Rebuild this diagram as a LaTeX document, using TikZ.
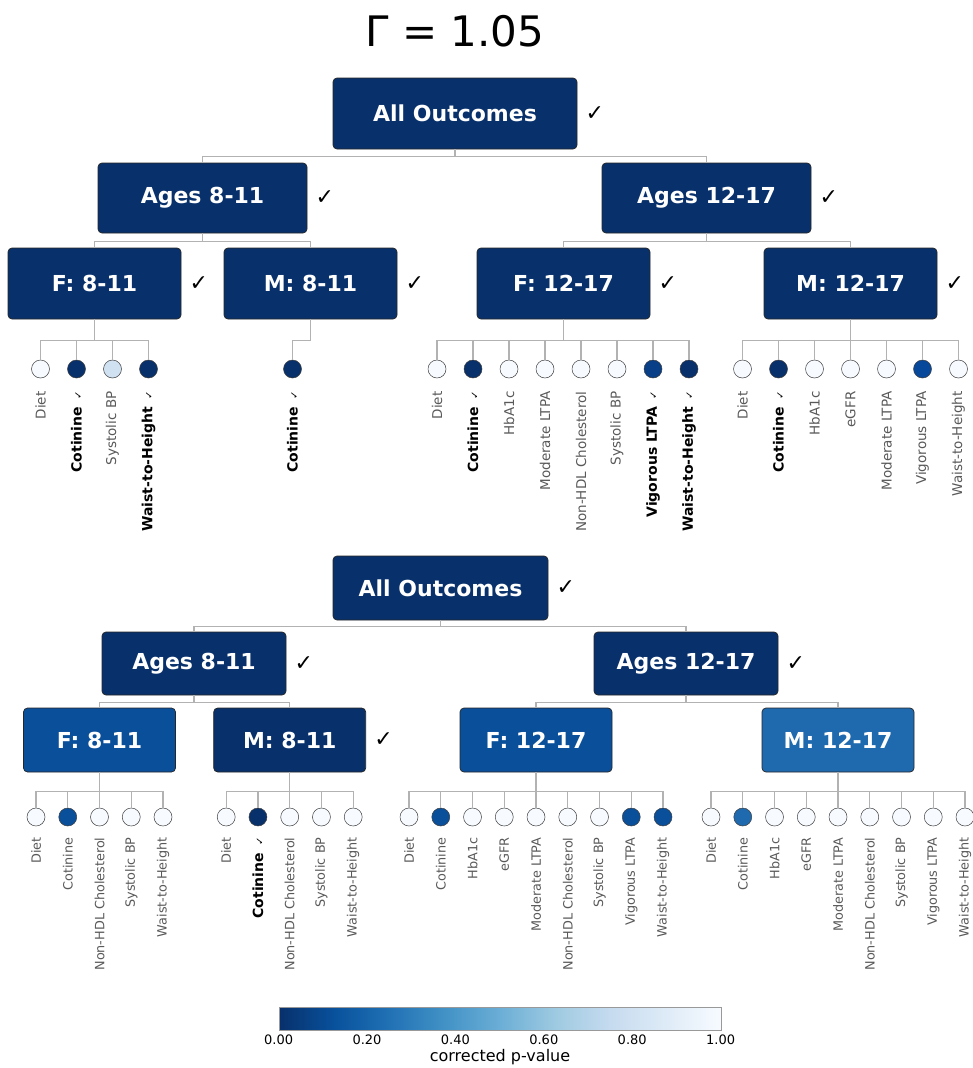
\documentclass[tikz,border=0pt]{standalone}
\usepackage{fontspec}
\setmainfont{DejaVu Sans}
\usetikzlibrary{positioning}

% colours (reversed Blues map, p-value 0 -> 1)
\definecolor{cnavy}{HTML}{08306B}
\definecolor{cdeep}{HTML}{083F86}
\definecolor{cmid}{HTML}{08489A}
\definecolor{cblue}{HTML}{0A4F9A}
\definecolor{csky}{HTML}{1F69AF}
\definecolor{cpale}{HTML}{D0E1F2}
\definecolor{cwhite}{HTML}{F7FBFF}
\definecolor{b0}{HTML}{08306B}
\definecolor{b1}{HTML}{08519C}
\definecolor{b2}{HTML}{2171B5}
\definecolor{b3}{HTML}{4292C6}
\definecolor{b4}{HTML}{6BAED6}
\definecolor{b5}{HTML}{9ECAE1}
\definecolor{b6}{HTML}{C6DBEF}
\definecolor{b7}{HTML}{DEEBF7}
\definecolor{b8}{HTML}{F7FBFF}
\pgfdeclarehorizontalshading{bluesr}{100bp}{color(0bp)=(b0); color(25bp)=(b0);
  color(31.25bp)=(b1); color(37.5bp)=(b2); color(43.75bp)=(b3); color(50bp)=(b4);
  color(56.25bp)=(b5); color(62.5bp)=(b6); color(68.75bp)=(b7); color(75bp)=(b8);
  color(100bp)=(b8)}

\begin{document}
\begin{tikzpicture}[x=1pt, y=-1pt,
    grpbox/.style={
        draw=black!85, line width=0.7pt,
        rounded corners=4pt, inner sep=0pt,
        text=white, font=\fontsize{22}{26}\selectfont\bfseries
    },
    okmark/.style={inner sep=0pt, font=\fontsize{22}{26}\selectfont},
    leaf/.style={circle, draw=black!75, line width=0.5pt, minimum size=18pt, inner sep=0pt},
    link/.style={draw=black!30, line width=1.2pt},
    tag/.style={rotate=90, anchor=east, inner sep=0pt, text=black!65,
        font=\fontsize{\lsize}{\lsize}\selectfont},
    sig/.style={tag, text=black, font=\fontsize{14}{16}\selectfont\bfseries,
        execute at end node={\hspace{7pt}{\mdseries\fontsize{10}{10}\selectfont ✓}}},
    ticklab/.style={anchor=north, inner sep=0pt, yshift=-4pt, font=\fontsize{13}{15}\selectfont},
]
\useasboundingbox (0,0) rectangle (972,1068);

% title
\node[font=\fontsize{42}{48}\selectfont] (title) at (455,31) {Γ = 1.05};

% ---------- upper tree ----------
\def\lsize{13.5}
\node[grpbox, fill=cnavy, minimum width=244pt, minimum height=71pt] (top0) at (455,113.5) {All Outcomes};
\node[okmark, right=8pt of top0] (top0-ok) {✓};

\node[grpbox, fill=cnavy, minimum width=209pt, minimum height=70pt] (ya) at (202.5,198) {Ages 8-11};
\node[grpbox, fill=cnavy, minimum width=209pt, minimum height=70pt] (yb) at (706.5,198) {Ages 12-17};
\node[okmark, right=8pt of ya] (ya-ok) {✓};
\node[okmark, right=8pt of yb] (yb-ok) {✓};

\draw[link] (top0.south) -- ++(0,7) -| (ya.north);
\draw[link] (top0.south) -- ++(0,7) -| (yb.north);

\node[grpbox, fill=cnavy, minimum width=173pt, minimum height=71pt] (fa) at (94.5,283.5) {F: 8-11};
\node[grpbox, fill=cnavy, minimum width=173pt, minimum height=71pt] (ma) at (310.5,283.5) {M: 8-11};
\node[grpbox, fill=cnavy, minimum width=173pt, minimum height=71pt] (fb) at (563.5,283.5) {F: 12-17};
\node[grpbox, fill=cnavy, minimum width=173pt, minimum height=71pt] (mb) at (850.5,283.5) {M: 12-17};
\node[okmark, right=8pt of fa] (fa-ok) {✓};
\node[okmark, right=8pt of ma] (ma-ok) {✓};
\node[okmark, right=8pt of fb] (fb-ok) {✓};
\node[okmark, right=8pt of mb] (mb-ok) {✓};

\draw[link] (ya.south) -- ++(0,8) -| (fa.north);
\draw[link] (ya.south) -- ++(0,8) -| (ma.north);
\draw[link] (yb.south) -- ++(0,8) -| (fb.north);
\draw[link] (yb.south) -- ++(0,8) -| (mb.north);

% outcome leaves
\foreach \lab/\col/\st [count=\i] in {Diet/cwhite/tag, Cotinine/cnavy/sig,
    Systolic BP/cpale/tag, Waist-to-Height/cnavy/sig}{
  \node[leaf, fill=\col] (fa\i) at ({40.5+36*(\i-1)},369) {};
  \node[\st] (fa\i-lab) at ([yshift=-13pt]fa\i.south) {\lab};
  \draw[link] (fa.south) -- ++(0,21) -| (fa\i.north);
}

\node[leaf, fill=cnavy] (ma1) at (292.5,369) {};
\node[sig] (ma1-lab) at ([yshift=-13pt]ma1.south) {Cotinine};
\draw[link] (ma.south) -- ++(0,21) -| (ma1.north);

\foreach \lab/\col/\st [count=\i] in {Diet/cwhite/tag, Cotinine/cnavy/sig,
    HbA1c/cwhite/tag, Moderate LTPA/cwhite/tag, Non-HDL Cholesterol/cwhite/tag,
    Systolic BP/cwhite/tag, Vigorous LTPA/cdeep/sig, Waist-to-Height/cnavy/sig}{
  \node[leaf, fill=\col] (fb\i) at ({437+36*(\i-1)},369) {};
  \node[\st] (fb\i-lab) at ([yshift=-13pt]fb\i.south) {\lab};
  \draw[link] (fb.south) -- ++(0,21) -| (fb\i.north);
}

\foreach \lab/\col/\st [count=\i] in {Diet/cwhite/tag, Cotinine/cnavy/sig,
    HbA1c/cwhite/tag, eGFR/cwhite/tag, Moderate LTPA/cwhite/tag,
    Vigorous LTPA/cmid/tag, Waist-to-Height/cwhite/tag}{
  \node[leaf, fill=\col] (mb\i) at ({742.5+36*(\i-1)},369) {};
  \node[\st] (mb\i-lab) at ([yshift=-13pt]mb\i.south) {\lab};
  \draw[link] (mb.south) -- ++(0,21) -| (mb\i.north);
}

% ---------- lower tree ----------
\def\lsize{12.8}
\node[grpbox, fill=cnavy, minimum width=215pt, minimum height=64pt] (bot0) at (440.5,588) {All Outcomes};
\node[okmark, right=8pt of bot0] (bot0-ok) {✓};

\node[grpbox, fill=cnavy, minimum width=184pt, minimum height=63pt] (yc) at (194,663.5) {Ages 8-11};
\node[grpbox, fill=cnavy, minimum width=184pt, minimum height=63pt] (yd) at (686,663.5) {Ages 12-17};
\node[okmark, right=8pt of yc] (yc-ok) {✓};
\node[okmark, right=8pt of yd] (yd-ok) {✓};

\draw[link] (bot0.south) -- ++(0,6) -| (yc.north);
\draw[link] (bot0.south) -- ++(0,6) -| (yd.north);

\node[grpbox, fill=cblue, minimum width=152pt, minimum height=64pt] (fc) at (99.5,740) {F: 8-11};
\node[grpbox, fill=cnavy, minimum width=152pt, minimum height=64pt] (mc) at (289.7,740) {M: 8-11};
\node[grpbox, fill=cblue, minimum width=152pt, minimum height=64pt] (fd) at (536,740) {F: 12-17};
\node[grpbox, fill=csky, minimum width=152pt, minimum height=64pt] (md) at (838,740) {M: 12-17};
\node[okmark, right=8pt of mc] (mc-ok) {✓};

\draw[link] (yc.south) -- ++(0,7) -| (fc.north);
\draw[link] (yc.south) -- ++(0,7) -| (mc.north);
\draw[link] (yd.south) -- ++(0,7) -| (fd.north);
\draw[link] (yd.south) -- ++(0,7) -| (md.north);

\foreach \lab/\col/\st [count=\i] in {Diet/cwhite/tag, Cotinine/cblue/tag,
    Non-HDL Cholesterol/cwhite/tag, Systolic BP/cwhite/tag, Waist-to-Height/cwhite/tag}{
  \node[leaf, fill=\col] (fc\i) at ({36+31.75*(\i-1)},817) {};
  \node[\st] (fc\i-lab) at ([yshift=-11pt]fc\i.south) {\lab};
  \draw[link] (fc.south) -- ++(0,19) -| (fc\i.north);
}

\foreach \lab/\col/\st [count=\i] in {Diet/cwhite/tag, Cotinine/cnavy/sig,
    Non-HDL Cholesterol/cwhite/tag, Systolic BP/cwhite/tag, Waist-to-Height/cwhite/tag}{
  \node[leaf, fill=\col] (mc\i) at ({226.2+31.75*(\i-1)},817) {};
  \node[\st] (mc\i-lab) at ([yshift=-11pt]mc\i.south) {\lab};
  \draw[link] (mc.south) -- ++(0,19) -| (mc\i.north);
}

\foreach \lab/\col/\st [count=\i] in {Diet/cwhite/tag, Cotinine/cblue/tag,
    HbA1c/cwhite/tag, eGFR/cwhite/tag, Moderate LTPA/cwhite/tag,
    Non-HDL Cholesterol/cwhite/tag, Systolic BP/cwhite/tag,
    Vigorous LTPA/cblue/tag, Waist-to-Height/cblue/tag}{
  \node[leaf, fill=\col] (fd\i) at ({409+31.75*(\i-1)},817) {};
  \node[\st] (fd\i-lab) at ([yshift=-11pt]fd\i.south) {\lab};
  \draw[link] (fd.south) -- ++(0,19) -| (fd\i.north);
}

\foreach \lab/\col/\st [count=\i] in {Diet/cwhite/tag, Cotinine/csky/tag,
    HbA1c/cwhite/tag, eGFR/cwhite/tag, Moderate LTPA/cwhite/tag,
    Non-HDL Cholesterol/cwhite/tag, Systolic BP/cwhite/tag,
    Vigorous LTPA/cwhite/tag, Waist-to-Height/cwhite/tag}{
  \node[leaf, fill=\col] (md\i) at ({711+31.75*(\i-1)},817) {};
  \node[\st] (md\i-lab) at ([yshift=-11pt]md\i.south) {\lab};
  \draw[link] (md.south) -- ++(0,19) -| (md\i.north);
}

% colour bar
\node[draw=black!40, line width=0.8pt, shade, shading=bluesr, inner sep=0pt,
      minimum width=442pt, minimum height=22.5pt] (cbar) at (500,1019) {};
\foreach \v [count=\i] in {0.00,0.20,0.40,0.60,0.80,1.00}
  \node[ticklab] (tick\i) at ([xshift={88.4*(\i-1)}]cbar.south west) {\v};
\node[font=\fontsize{16}{18}\selectfont] (cbar-lab) at (500,1057) {corrected p-value};

\end{tikzpicture}
\end{document}
